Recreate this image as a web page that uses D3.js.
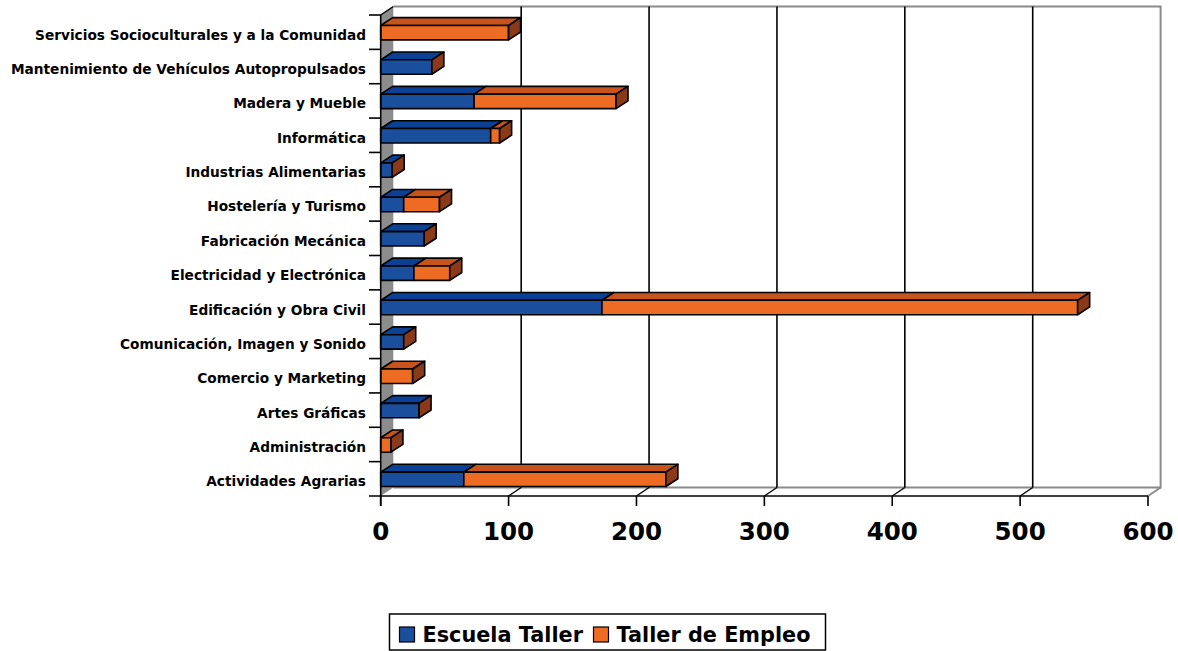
<!DOCTYPE html>
<html><head><meta charset="utf-8">
<script src="https://cdn.jsdelivr.net/npm/d3@7"></script>
<style>body{margin:0;background:#fff}svg{display:block}</style>
</head><body>
<script>
const categories = ["Actividades Agrarias","Administración","Artes Gráficas","Comercio y Marketing","Comunicación, Imagen y Sonido","Edificación y Obra Civil","Electricidad y Electrónica","Fabricación Mecánica","Hostelería y Turismo","Industrias Alimentarias","Informática","Madera y Mueble","Mantenimiento de Vehículos Autopropulsados","Servicios Socioculturales y a la Comunidad"];
const escuelaTaller = [65,0,30,0,18,173,26,34,18,9,86,73,40,0];
const tallerEmpleo = [158,8,0,25,0,372,28,0,28,0,7,111,0,100];
const seriesNames = ["Escuela Taller","Taller de Empleo"];
const xTicks = [0,100,200,300,400,500,600];

const W=1178,H=651;
const svg=d3.select("body").append("svg").attr("width",W).attr("height",H);
const font='"DejaVu Sans", Verdana, sans-serif';
const DX=12.6, DY=8.5;   // frame depth
const BDX=12, BDY=7.8;   // bar depth
const x=d3.scaleLinear().domain([0,600]).range([380.7,1148]);
const y=d3.scaleBand().domain(categories.slice().reverse()).range([15,496]).paddingInner(0).paddingOuter(0);
const x0=x(0), yB=496, yT=15;

const cols={front:["#1a4f9e","#ee6b23"],top:["#0a4194","#c8531c"],side:"#8a3a18"};

// left wall
svg.append("path").attr("d",`M${x0},${yT}L${x0+DX},${yT-DY}L${x0+DX},${yB-DY}L${x0},${yB}Z`).attr("fill","#8c8c8c").attr("stroke","none");
svg.append("line").attr("x1",x0).attr("y1",yT).attr("x2",x0+DX).attr("y2",yT-DY).attr("stroke","#000").attr("stroke-width",1.5);
// back wall frame (grey)
const xr=x(600);
svg.append("path").attr("d",`M${x0+DX},${yT-DY}L${xr+DX},${yT-DY}L${xr+DX},${yB-DY}L${x0+DX},${yB-DY}`).attr("fill","none").attr("stroke","#8a8a8a").attr("stroke-width",2);
svg.append("line").attr("x1",xr).attr("y1",yB).attr("x2",xr+DX).attr("y2",yB-DY).attr("stroke","#8a8a8a").attr("stroke-width",2);
// gridlines on back wall
svg.append("g").selectAll("line").data(xTicks.filter(d=>d>0&&d<600)).join("line")
  .attr("x1",d=>x(d)+DX).attr("x2",d=>x(d)+DX).attr("y1",yT-DY).attr("y2",yB-DY)
  .attr("stroke","#000").attr("stroke-width",1.6);
// floor depth lines at ticks
svg.append("g").selectAll("line").data(xTicks.filter(d=>d>0&&d<600)).join("line")
  .attr("x1",d=>x(d)).attr("x2",d=>x(d)+DX).attr("y1",yB).attr("y2",yB-DY)
  .attr("stroke","#000").attr("stroke-width",1.4);

// bars
const bh=y.bandwidth()*0.42;
const gBars=svg.append("g").attr("stroke","#000").attr("stroke-width",1.6).attr("stroke-linejoin","round");
categories.forEach((c,i)=>{
  const vals=[escuelaTaller[i],tallerEmpleo[i]];
  const yc=y(c)+y.bandwidth()/2+0.5;
  const ty=yc-bh/2, by=yc+bh/2;
  let acc=0;
  vals.forEach((v,s)=>{
    if(v<=0) return;
    const xa=x(acc), xb=x(acc+v);
    gBars.append("path").attr("d",`M${xa},${ty}L${xa+BDX},${ty-BDY}L${xb+BDX},${ty-BDY}L${xb},${ty}Z`).attr("fill",cols.top[s]);
    gBars.append("rect").attr("x",xa).attr("y",ty).attr("width",xb-xa).attr("height",bh).attr("fill",cols.front[s]);
    acc+=v;
  });
  const xe=x(acc);
  gBars.append("path").attr("d",`M${xe},${ty}L${xe+BDX},${ty-BDY}L${xe+BDX},${by-BDY}L${xe},${by}Z`).attr("fill",cols.side);
});

// front axes
svg.append("line").attr("x1",x0).attr("x2",x0).attr("y1",yT).attr("y2",yB+10).attr("stroke","#000").attr("stroke-width",1.6);
svg.append("line").attr("x1",369).attr("x2",xr).attr("y1",yB).attr("y2",yB).attr("stroke","#000").attr("stroke-width",1.6);
// category ticks
const bounds=categories.map(c=>y(c));
svg.append("g").selectAll("line").data(bounds).join("line")
  .attr("x1",369).attr("x2",x0).attr("y1",d=>d).attr("y2",d=>d).attr("stroke","#000").attr("stroke-width",1.6);
// x ticks
svg.append("g").selectAll("line").data(xTicks).join("line")
  .attr("x1",d=>x(d)).attr("x2",d=>x(d)).attr("y1",yB).attr("y2",yB+10).attr("stroke","#000").attr("stroke-width",1.6);
svg.append("g").selectAll("text").data(xTicks).join("text")
  .attr("x",d=>x(d)).attr("y",540).attr("text-anchor","middle")
  .attr("font-family",font).attr("font-weight","bold").attr("font-size",24.5).text(d=>d);
// category labels
svg.append("g").selectAll("text").data(categories).join("text")
  .attr("x",366).attr("y",c=>y(c)+y.bandwidth()/2+7.5).attr("text-anchor","end")
  .attr("font-family",font).attr("font-weight","bold").attr("font-size",13.7).text(c=>c);

// legend
const lg=svg.append("g");
lg.append("rect").attr("x",389.5).attr("y",614).attr("width",436).attr("height",36).attr("fill","#fff").attr("stroke","#000").attr("stroke-width",1.5);
const lx=[399.5,593.5];
seriesNames.forEach((n,s)=>{
  lg.append("rect").attr("x",lx[s]).attr("y",627).attr("width",15).attr("height",15).attr("fill",cols.front[s]).attr("stroke","#000").attr("stroke-width",1.2);
  lg.append("text").attr("x",lx[s]+23).attr("y",641.5).attr("font-family",font).attr("font-weight","bold").attr("font-size",20.8).text(n);
});
</script>
</body></html>
